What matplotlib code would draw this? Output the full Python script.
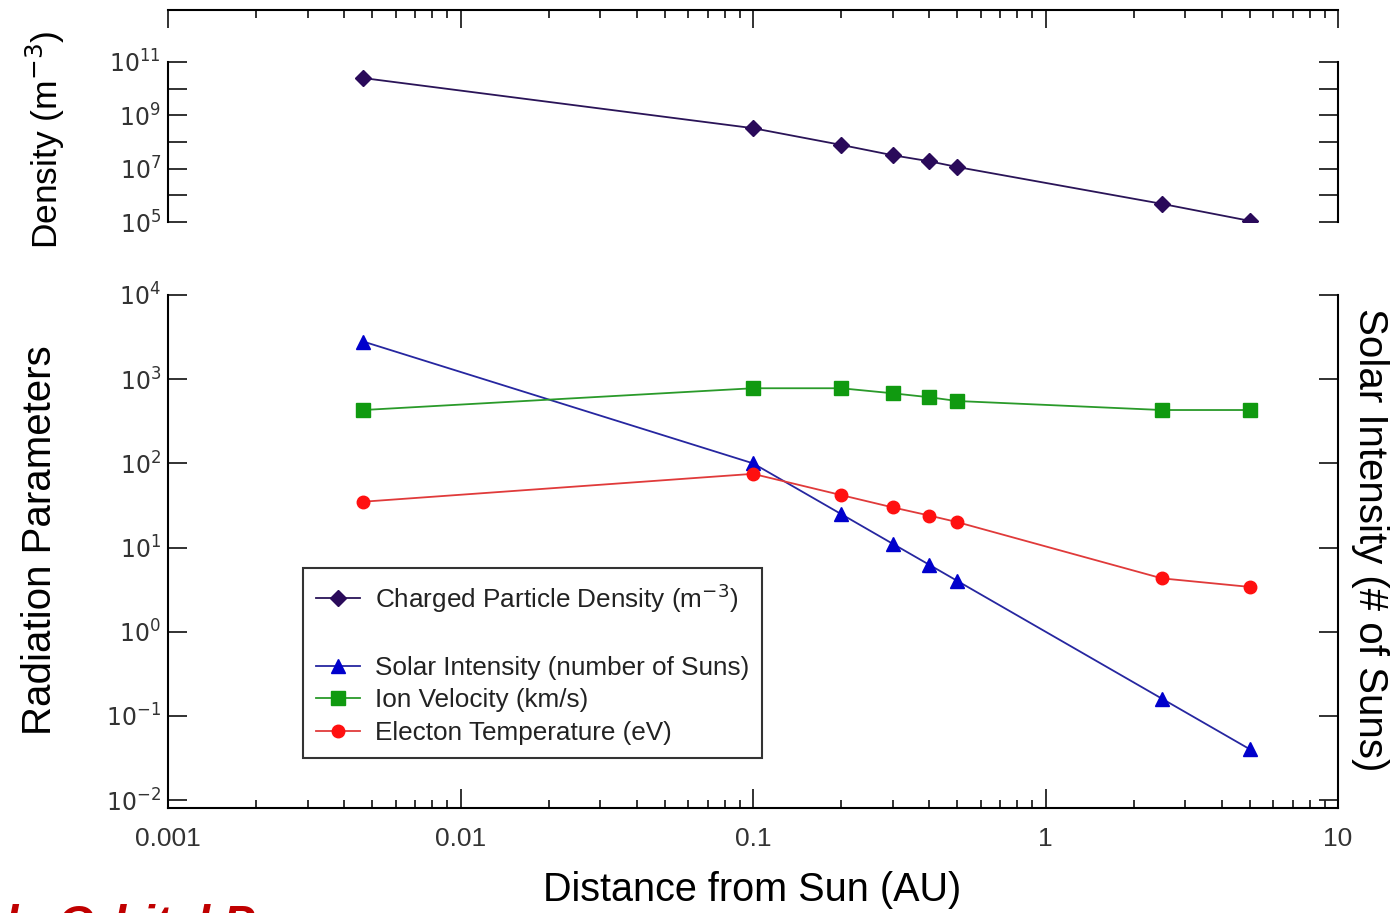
import matplotlib.pyplot as plt
import numpy as np
from matplotlib.lines import Line2D
from matplotlib.ticker import FixedLocator, FuncFormatter, LogLocator, NullFormatter, NullLocator
from matplotlib.transforms import Bbox, TransformedBbox

plt.rcParams['font.family'] = ['Liberation Sans', 'DejaVu Sans']

# distance from sun (AU)
distance = [0.00465, 0.1, 0.2, 0.3, 0.4, 0.5, 2.5, 5.0]

density = [2.5e10, 3.3e8, 7.8e7, 3.2e7, 1.9e7, 1.15e7, 4.8e5, 1.1e5]
solar_intensity = [2800, 100, 25, 11.1, 6.25, 4.0, 0.16, 0.04]
ion_velocity = [430, 780, 780, 680, 610, 550, 430, 430]
electron_temp = [35, 75, 42, 30, 24, 20, 4.3, 3.4]

density_ticks = [1e5, 1e6, 1e7, 1e8, 1e9, 1e10, 1e11]
rad_ticks = [1e-2, 1e-1, 1e0, 1e1, 1e2, 1e3, 1e4]
x_ticks = [0.001, 0.01, 0.1, 1, 10]

fig = plt.figure(figsize=(13.92, 9.13), dpi=100)
W, H = 1392, 913
left, right = 168 / W, 1338 / W

ax_top = fig.add_axes([left, 1 - 222 / H, right - left, (222 - 10) / H])
ax = fig.add_axes([left, 1 - 808 / H, right - left, (808 - 295) / H])

tick_kw = dict(direction='in', width=1.3, color='#222222')

# ---- top panel: density
ax_top.plot(distance, density, color='#2a1458', lw=1.3, marker='D', ms=8,
            mfc='#2a0a5a', mec='#2a0a5a', label='Charged Particle Density (m$^{-3}$)')
ax_top.set_xscale('log')
ax_top.set_yscale('log')
ax_top.set_xlim(0.001, 10)
ax_top.set_ylim(1e5, 10 ** 12.95)
ax_top.spines['bottom'].set_visible(False)
ax_top.spines['left'].set_bounds(1e5, 1e11)
ax_top.spines['right'].set_bounds(1e5, 1e11)
for s in ax_top.spines.values():
    s.set_linewidth(1.5)
ax_top.xaxis.tick_top()
ax_top.xaxis.set_major_locator(FixedLocator(x_ticks))
ax_top.xaxis.set_minor_locator(LogLocator(base=10, subs=np.arange(2, 10)))
ax_top.xaxis.set_major_formatter(NullFormatter())
ax_top.xaxis.set_minor_formatter(NullFormatter())
ax_top.tick_params(axis='x', which='major', length=13, **tick_kw)
ax_top.tick_params(axis='x', which='minor', length=6, **tick_kw)
ax_top.yaxis.set_major_locator(FixedLocator(density_ticks))
ax_top.yaxis.set_minor_locator(NullLocator())
ax_top.yaxis.set_major_formatter(FuncFormatter(
    lambda v, p: '$10^{%d}$' % round(np.log10(v)) if round(np.log10(v)) % 2 == 1 else ''))
ax_top.tick_params(axis='y', which='major', length=14, right=True, labelsize=17, pad=5,
                   labelcolor='#333333', **tick_kw)

# ---- bottom panel: radiation parameters
l_sol, = ax.plot(distance, solar_intensity, color='#2626a0', lw=1.3, marker='^', ms=10,
                 mfc='#0000cc', mec='#0000cc', label='Solar Intensity (number of Suns)')
l_ion, = ax.plot(distance, ion_velocity, color='#2a9a2a', lw=1.3, marker='s', ms=10,
                 mfc='#109a10', mec='#109a10', label='Ion Velocity (km/s)')
l_tmp, = ax.plot(distance, electron_temp, color='#e03a3a', lw=1.3, marker='o', ms=9,
                 mfc='#ff1010', mec='#ff1010', label='Electon Temperature (eV)')
ax.set_xscale('log')
ax.set_yscale('log')
ax.set_xlim(0.001, 10)
ax.set_ylim(10 ** -2.095, 1e4)
ax.spines['top'].set_visible(False)
for s in ax.spines.values():
    s.set_linewidth(1.5)
ax.xaxis.set_major_locator(FixedLocator(x_ticks))
ax.xaxis.set_minor_locator(LogLocator(base=10, subs=np.arange(2, 10)))
ax.xaxis.set_major_formatter(FuncFormatter(lambda v, p: '%g' % v))
ax.xaxis.set_minor_formatter(NullFormatter())
ax.tick_params(axis='x', which='major', length=14, labelsize=19, pad=14,
               labelcolor='#333333', **tick_kw)
ax.tick_params(axis='x', which='minor', length=6, **tick_kw)
ax.yaxis.set_major_locator(FixedLocator(rad_ticks))
ax.yaxis.set_minor_locator(NullLocator())
ax.yaxis.set_major_formatter(FuncFormatter(lambda v, p: '$10^{%d}$' % round(np.log10(v))))
ax.tick_params(axis='y', which='major', length=14, right=True, labelsize=17, pad=5,
               labelcolor='#333333', **tick_kw)

# legend with a gap after the density entry
blank = Line2D([], [], color='none', label=' ')
h_dens = ax_top.get_lines()[0]
leg = ax.legend(handles=[h_dens, blank, l_sol, l_ion, l_tmp], loc='upper left',
                bbox_to_anchor=(303 / W, 1 - 568 / H), bbox_transform=fig.transFigure,
                fontsize=18.8, frameon=True, fancybox=False, edgecolor='black',
                handlelength=1.7, handletextpad=0.55, labelspacing=0.33,
                borderpad=0.5, borderaxespad=0)
leg.get_frame().set_linewidth(1.5)
for t in leg.get_texts():
    t.set_color('#222222')

# axis labels
fig.text(45 / W, 1 - 140 / H, 'Density (m$^{-3}$)', rotation=90, ha='center', va='center',
         fontsize=25.5)
fig.text(40 / W, 1 - 540 / H, 'Radiation Parameters', rotation=90, ha='center', va='center',
         fontsize=29)
fig.text(1370 / W, 1 - 540 / H, 'Solar Intensity (# of Suns)', rotation=270, ha='center',
         va='center', fontsize=29)
fig.text(752 / W, 1 - 890 / H, 'Distance from Sun (AU)', ha='center', va='center', fontsize=28.5)

# slide title behind the chart, only its top-left corner shows
title = fig.text(-21 / W, 1 - 938 / H, 'al   Orbital Parameters', ha='left', va='baseline',
                 fontsize=34, fontweight='bold', fontstyle='italic', color='#c00000')
title.set_clip_box(TransformedBbox(Bbox([[0, 0], [262 / W, 1]]), fig.transFigure))
title.set_clip_on(True)

fig.savefig('out.png', dpi=100)
